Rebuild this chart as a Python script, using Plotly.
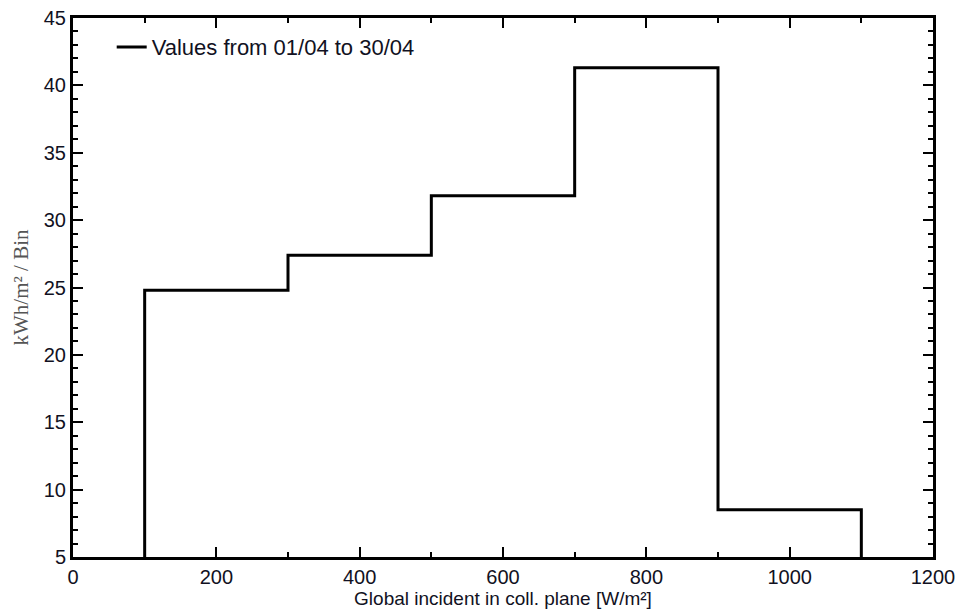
import plotly.graph_objects as go

bin_edges = [100, 300, 500, 700, 900, 1100]
bin_values = [24.8, 27.4, 31.8, 41.3, 8.5]
y_base = 5
series_name = "Values from 01/04 to 30/04"

xs = [bin_edges[0]] + bin_edges[:-1] + [bin_edges[-1], bin_edges[-1]]
ys = [y_base] + bin_values + [bin_values[-1], y_base]

fig = go.Figure()
fig.add_trace(go.Scatter(x=xs, y=ys, mode="lines", line=dict(color="black", width=3, shape="hv"),
                         name=series_name, showlegend=True))

sans = "Liberation Sans, Arial, sans-serif"
tick_font = dict(family=sans, size=20, color="#111122")

common = dict(showline=True, linecolor="black", linewidth=3, mirror="ticks",
              ticks="inside", tickcolor="black", tickwidth=2, ticklen=10,
              showgrid=False, zeroline=False, tickfont=tick_font, automargin=False)

fig.update_xaxes(range=[0, 1200], dtick=200, tick0=0,
                 minor=dict(ticks="inside", dtick=100, ticklen=5, tickcolor="black", tickwidth=2),
                 title=dict(text="Global incident in coll. plane [W/m²]",
                            font=dict(family=sans, size=19, color="#111122"), standoff=0),
                 **common)
fig.update_yaxes(range=[5, 45], dtick=5, tick0=5,
                 minor=dict(ticks="inside", dtick=1, ticklen=5, tickcolor="black", tickwidth=2),
                 title=dict(text="kWh/m² / Bin",
                            font=dict(family="Liberation Serif, Times New Roman, serif", size=21, color="#555555"),
                            standoff=10),
                 **common)

fig.update_layout(width=956, height=611, margin=dict(l=73, r=23, t=18, b=54),
                  plot_bgcolor="white", paper_bgcolor="white",
                  legend=dict(x=0.045, y=0.946, xanchor="left", yanchor="middle", bgcolor="rgba(0,0,0,0)",
                              font=dict(family=sans, size=22, color="#111122")))

fig.write_html("out.html")
